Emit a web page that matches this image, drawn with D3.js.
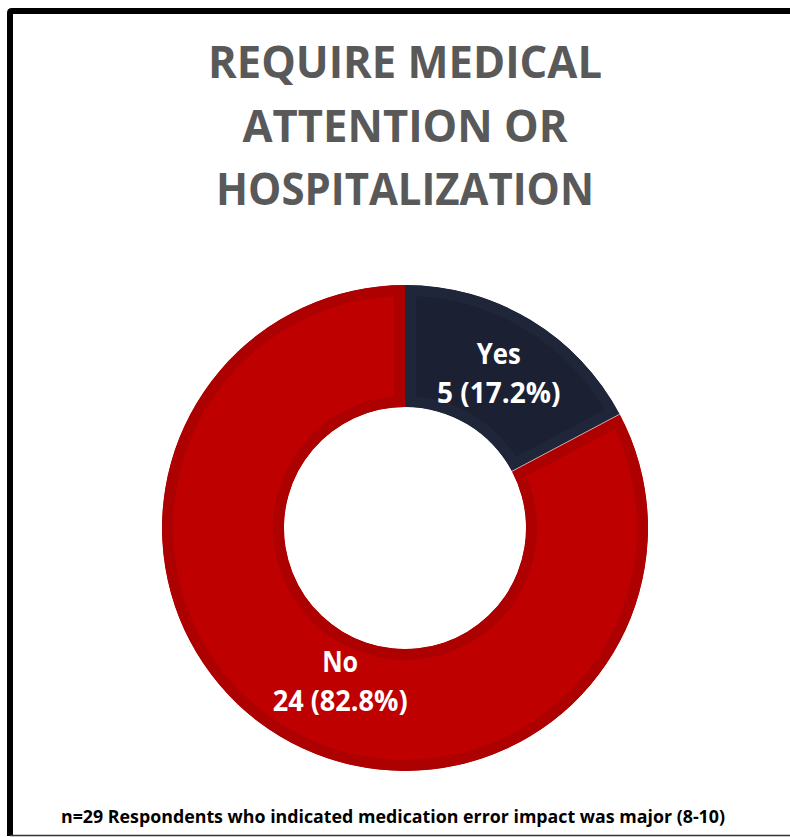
<!DOCTYPE html>
<html>
<head>
<meta charset="utf-8">
<script src="https://cdn.jsdelivr.net/npm/d3@7"></script>
<style>
  body { margin: 0; background: #fff; }
  svg { display: block; font-family: "Open Sans", "DejaVu Sans", sans-serif; }
</style>
</head>
<body>
<script>
// data
var categories = ["Yes", "No"];
var counts = [5, 24];
var percents = [17.2, 82.8];
var sliceColors = ["#1b2033", "#be0000"];
var edgeColors = ["#20263a", "#ad0000"];
var titleLines = ["REQUIRE MEDICAL", "ATTENTION OR", "HOSPITALIZATION"];
var footnote = "n=29 Respondents who indicated medication error impact was major (8-10)";

var W = 790, H = 837;
var cx = 405, cy = 528, outerR = 243, innerR = 121;

var svg = d3.select("body").append("svg")
    .attr("width", W)
    .attr("height", H);

// frame
svg.append("rect").attr("x", 0).attr("y", 0).attr("width", W).attr("height", H).attr("fill", "#fff");
svg.append("path")
    .attr("d", "M10," + (H - 1) + " L10,13 Q10,11 12,11 L" + (W + 5) + ",11")
    .attr("fill", "none")
    .attr("stroke", "#000")
    .attr("stroke-width", 6);
svg.append("line")
    .attr("x1", 10).attr("x2", W).attr("y1", 835.5).attr("y2", 835.5)
    .attr("stroke", "#333").attr("stroke-width", 1.5);

// squeeze text to the width seen in the picture
function fitText(sel, w) {
    sel.each(function() {
        var len = this.getComputedTextLength();
        if (Math.abs(len - w) > 2) {
            d3.select(this).attr("textLength", w).attr("lengthAdjust", "spacingAndGlyphs");
        }
    });
}

// title
var titleWidths = [394, 325, 378];
var titleBase = [78, 142, 205];
titleLines.forEach(function(t, i) {
    svg.append("text")
        .attr("x", 405)
        .attr("y", titleBase[i])
        .attr("text-anchor", "middle")
        .attr("fill", "#595959")
        .style("font-size", "45px")
        .style("font-weight", "bold")
        .text(t)
        .call(fitText, titleWidths[i]);
});

// donut
var data = categories.map(function(c, i) {
    return { name: c, count: counts[i], pct: percents[i], color: sliceColors[i], edge: edgeColors[i] };
});
var pie = d3.pie().sort(null).value(function(d) { return d.count; });
var arc = d3.arc().innerRadius(innerR).outerRadius(outerR);
var arcs = pie(data);

var g = svg.append("g").attr("transform", "translate(" + cx + "," + cy + ")");
var defs = svg.append("defs");
arcs.forEach(function(d, i) {
    defs.append("clipPath").attr("id", "clip" + i)
        .append("path").attr("d", arc(d));
});

g.selectAll("path.slice")
    .data(arcs)
    .enter().append("path")
    .attr("class", "slice")
    .attr("d", arc)
    .attr("fill", function(d) { return d.data.color; })
    .attr("stroke", function(d) { return d.data.edge; })
    .attr("stroke-width", 22)
    .attr("clip-path", function(d, i) { return "url(#clip" + i + ")"; });

// thin light line where Yes ends
var a = arcs[0].endAngle;
g.append("line")
    .attr("x1", innerR * Math.sin(a)).attr("y1", -innerR * Math.cos(a))
    .attr("x2", outerR * Math.sin(a)).attr("y2", -outerR * Math.cos(a))
    .attr("stroke", "#fff")
    .attr("stroke-opacity", 0.6)
    .attr("stroke-width", 1);

// labels
var labelShift = [[0, 1], [29, -3]];
var labelWidths = [[44, 122], [36, 135]];
arcs.forEach(function(d, i) {
    var c = arc.centroid(d);
    var x = c[0] + labelShift[i][0], y = c[1] + labelShift[i][1];
    g.append("text")
        .attr("x", x).attr("y", y - 9)
        .attr("text-anchor", "middle")
        .attr("fill", "#fff")
        .style("font-size", "28px")
        .style("font-weight", "bold")
        .text(d.data.name)
        .call(fitText, labelWidths[i][0]);
    g.append("text")
        .attr("x", x).attr("y", y + 30)
        .attr("text-anchor", "middle")
        .attr("fill", "#fff")
        .style("font-size", "28px")
        .style("font-weight", "bold")
        .text(d.data.count + " (" + d3.format(".1f")(d.data.pct) + "%)")
        .call(fitText, labelWidths[i][1]);
});

// footnote
svg.append("text")
    .attr("x", 393)
    .attr("y", 823)
    .attr("text-anchor", "middle")
    .attr("fill", "#000")
    .style("font-size", "17.5px")
    .style("font-weight", "bold")
    .text(footnote)
    .call(fitText, 664);
</script>
</body>
</html>
